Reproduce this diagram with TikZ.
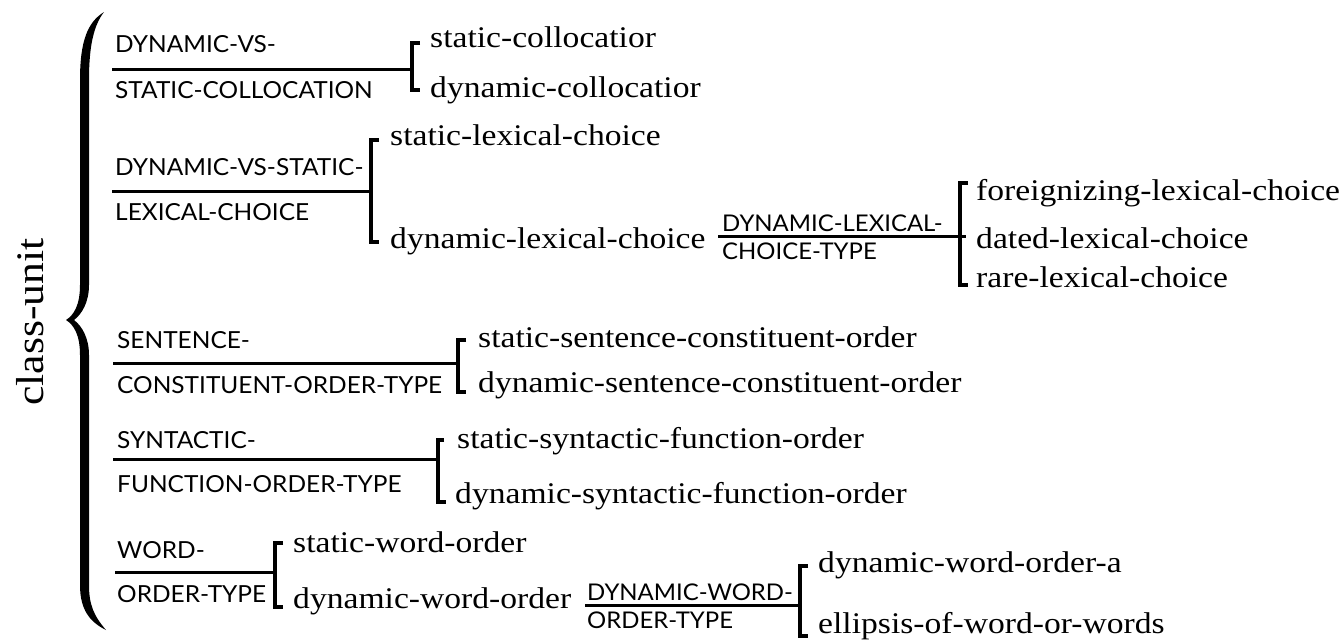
\documentclass[tikz,border=0pt]{standalone}
\usepackage{fontspec}
\newfontfamily\leaffont[FakeStretch=1.12]{Liberation Serif}
\newfontfamily\labfont[FakeStretch=1.04]{Lato}
\begin{document}
\begin{tikzpicture}[x=1pt,y=-1pt,
  lab/.style={font=\labfont\fontsize{23.5}{23.5}\selectfont,anchor=base west,inner sep=0pt},
  sublab/.style={font=\labfont\fontsize{23}{23}\selectfont,anchor=base west,inner sep=0pt},
  leaf/.style={font=\leaffont\fontsize{30}{30}\selectfont,anchor=base west,inner sep=0pt},
  rulel/.style={line width=3pt},
  brk/.style={line width=3.4pt,line join=miter}
]
\useasboundingbox (0,0) rectangle (1341,641);

% root label and brace
\node[font=\leaffont\fontsize{39}{39}\selectfont,rotate=90,inner sep=0pt] (root) at (30,322) {class-unit};
\fill (104,12) .. controls (88,22) and (80,40) .. (80,80) -- (80,285)
  .. controls (80,305) and (74,315) .. (66,320)
  .. controls (74,325) and (80,335) .. (80,355) -- (80,585)
  .. controls (80,610) and (90,622) .. (106,630)
  .. controls (94,616) and (89,605) .. (89,585) -- (89,355)
  .. controls (89,338) and (82,326) .. (74,320)
  .. controls (82,314) and (89,302) .. (89,285) -- (89,80)
  .. controls (89,45) and (94,25) .. (104,12) -- cycle;

% group 1
\node[lab] (g1a) at (115,52) {DYNAMIC-VS-};
\node[lab] (g1b) at (115,98) {STATIC-COLLOCATION};
\coordinate (r1) at (112,69);
\coordinate (b1t) at (412,43);
\coordinate (b1b) at (412,90);
\node[leaf] (s1) at (430,47) {static-collocatior};
\node[leaf] (d1) at (430,97) {dynamic-collocatior};
\draw[rulel] (r1) -- (r1 -| b1t);
\draw[brk] (b1t) ++(8,0) -- (b1t) -- (b1b) -- ++(8,0);

% group 2
\node[lab] (g2a) at (115,175) {DYNAMIC-VS-STATIC-};
\node[lab] (g2b) at (115,220) {LEXICAL-CHOICE};
\coordinate (r2) at (112,191);
\coordinate (b2t) at (371,140);
\coordinate (b2b) at (371,242);
\node[leaf] (s2) at (390,145) {static-lexical-choice};
\node[leaf] (d2) at (390,248) {dynamic-lexical-choice};
\draw[rulel] (r2) -- (r2 -| b2t);
\draw[brk] (b2t) ++(8,0) -- (b2t) -- (b2b) -- ++(8,0);

% sub-group of dynamic-lexical-choice
\node[sublab] (g2ca) at (722,231) {DYNAMIC-LEXICAL-};
\node[sublab] (g2cb) at (722,259) {CHOICE-TYPE};
\coordinate (r2c) at (718,236);
\coordinate (b3t) at (960,183);
\coordinate (b3b) at (960,285);
\node[leaf] (f3) at (976,200) {foreignizing-lexical-choice};
\node[leaf] (t3) at (976,248) {dated-lexical-choice};
\node[leaf] (r3) at (976,287) {rare-lexical-choice};
\draw[rulel] (r2c) -- ([xshift=6pt]r2c -| b3t);
\draw[brk] (b3t) ++(8,0) -- (b3t) -- (b3b) -- ++(8,0);

% group 3
\node[lab] (g3a) at (117,348) {SENTENCE-};
\node[lab] (g3b) at (117,393) {CONSTITUENT-ORDER-TYPE};
\coordinate (r3l) at (113,363);
\coordinate (b4t) at (458,340);
\coordinate (b4b) at (458,392);
\node[leaf] (s4) at (478,347) {static-sentence-constituent-order};
\node[leaf] (d4) at (478,392) {dynamic-sentence-constituent-order};
\draw[rulel] (r3l) -- (r3l -| b4t);
\draw[brk] (b4t) ++(8,0) -- (b4t) -- (b4b) -- ++(8,0);

% group 4
\node[lab] (g4a) at (117,448) {SYNTACTIC-};
\node[lab] (g4b) at (117,492) {FUNCTION-ORDER-TYPE};
\coordinate (r4) at (113,459);
\coordinate (b5t) at (438,440);
\coordinate (b5b) at (438,502);
\node[leaf] (s5) at (457,448) {static-syntactic-function-order};
\node[leaf] (d5) at (455,503) {dynamic-syntactic-function-order};
\draw[rulel] (r4) -- (r4 -| b5t);
\draw[brk] (b5t) ++(6,0) -- (b5t) -- (b5b) -- ++(8,0);

% group 5
\node[lab] (g5a) at (117,558) {WORD-};
\node[lab] (g5b) at (117,602) {ORDER-TYPE};
\coordinate (r5) at (115,572);
\coordinate (b6t) at (275,543);
\coordinate (b6b) at (275,607);
\node[leaf] (s6) at (293,552) {static-word-order};
\node[leaf] (d6) at (293,608) {dynamic-word-order};
\draw[rulel] (r5) -- (r5 -| b6t);
\draw[brk] (b6t) ++(8,0) -- (b6t) -- (b6b) -- ++(8,0);

% sub-group of dynamic-word-order
\node[sublab] (g5ca) at (587,600) {DYNAMIC-WORD-};
\node[sublab] (g5cb) at (587,628) {ORDER-TYPE};
\coordinate (r5c) at (585,605);
\coordinate (b7t) at (800,566);
\coordinate (b7b) at (800,636);
\node[leaf] (s7) at (818,572) {dynamic-word-order-a};
\node[leaf] (e7) at (818,633) {ellipsis-of-word-or-words};
\draw[rulel] (r5c) -- (r5c -| b7t);
\draw[brk] (b7t) ++(8,0) -- (b7t) -- (b7b) -- ++(8,0);
\end{tikzpicture}
\end{document}
